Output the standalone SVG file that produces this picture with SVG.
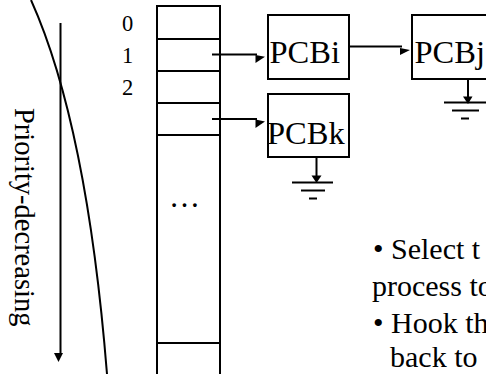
<svg xmlns="http://www.w3.org/2000/svg" width="486" height="374" viewBox="0 0 486 374">
<style>
.ln{stroke:#000;stroke-width:2;fill:none}
.box{stroke:#000;stroke-width:2;fill:#fff}
.hd{fill:#000;stroke:none}
.t{font-family:"Liberation Serif","Times New Roman",serif;fill:#000}
</style>
<rect width="486" height="374" fill="#fff"/>
<g id="curve"><path class="ln" d="M31,0 Q87,124.6 107,374"/></g>
<g id="priority">
<line class="ln" x1="60.5" y1="23" x2="60.5" y2="355"/>
<polygon class="hd" points="54,353 63,353 58.5,362"/>
<text class="t" font-size="28.5" transform="translate(15,108) rotate(90)">Priority-decreasing</text>
</g>
<g id="table">
<path class="ln" d="M157,380 V6 H220 V380"/>
<line class="ln" x1="157" y1="39" x2="220" y2="39"/>
<line class="ln" x1="157" y1="71" x2="220" y2="71"/>
<line class="ln" x1="157" y1="103" x2="220" y2="103"/>
<line class="ln" x1="157" y1="135" x2="220" y2="135"/>
<line class="ln" x1="157" y1="343" x2="220" y2="343"/>
<text class="t" font-size="22.5" x="122" y="30.5">0</text>
<text class="t" font-size="22.5" x="122" y="62.5">1</text>
<text class="t" font-size="22.5" x="122" y="94.5">2</text>
<text class="t" font-size="31" x="184.5" y="207" text-anchor="middle">…</text>
</g>
<g id="pcbi">
<rect class="box" x="268" y="15" width="81" height="64"/>
<text class="t" font-size="32.5" x="269.5" y="62.5">PCBi</text>
</g>
<g id="pcbj">
<rect class="box" x="412" y="15" width="80" height="64"/>
<text class="t" font-size="32.5" x="414.5" y="62.5">PCBj</text>
</g>
<g id="pcbk">
<rect class="box" x="268" y="94" width="81" height="63"/>
<text class="t" font-size="32.5" x="267" y="143.5">PCBk</text>
</g>
<g id="connectors">
<line class="ln" x1="212" y1="54.5" x2="257" y2="54.5"/>
<polygon class="hd" points="255.5,55 265,56.7 255.5,63"/>
<line class="ln" x1="212" y1="119" x2="257" y2="119"/>
<polygon class="hd" points="255.5,119.5 265,121.5 255.5,128"/>
<line class="ln" x1="349" y1="46.5" x2="402" y2="46.5"/>
<polygon class="hd" points="400,48 410,50 400,55"/>
</g>
<g id="ground-j">
<line class="ln" x1="468" y1="79" x2="468" y2="100"/>
<polygon class="hd" points="463,96.5 472.5,96.5 468,104"/>
<line class="ln" x1="444" y1="102.5" x2="487" y2="102.5"/>
<line class="ln" x1="452" y1="110.5" x2="479" y2="110.5"/>
<line class="ln" x1="461" y1="118.5" x2="469" y2="118.5"/>
</g>
<g id="ground-k">
<line class="ln" x1="316.5" y1="157" x2="316.5" y2="179"/>
<polygon class="hd" points="311.5,175.5 321.5,175.5 316.5,183"/>
<line class="ln" x1="292" y1="182.5" x2="333" y2="182.5"/>
<line class="ln" x1="301" y1="190.5" x2="325" y2="190.5"/>
<line class="ln" x1="309" y1="198.5" x2="317" y2="198.5"/>
</g>
<g id="notes">
<text class="t" font-size="30" x="373" y="259">• Select t</text>
<text class="t" font-size="30" x="372" y="296">process to</text>
<text class="t" font-size="30" x="373" y="333">• Hook th</text>
<text class="t" font-size="30" x="390" y="367">back to</text>
</g>
</svg>
